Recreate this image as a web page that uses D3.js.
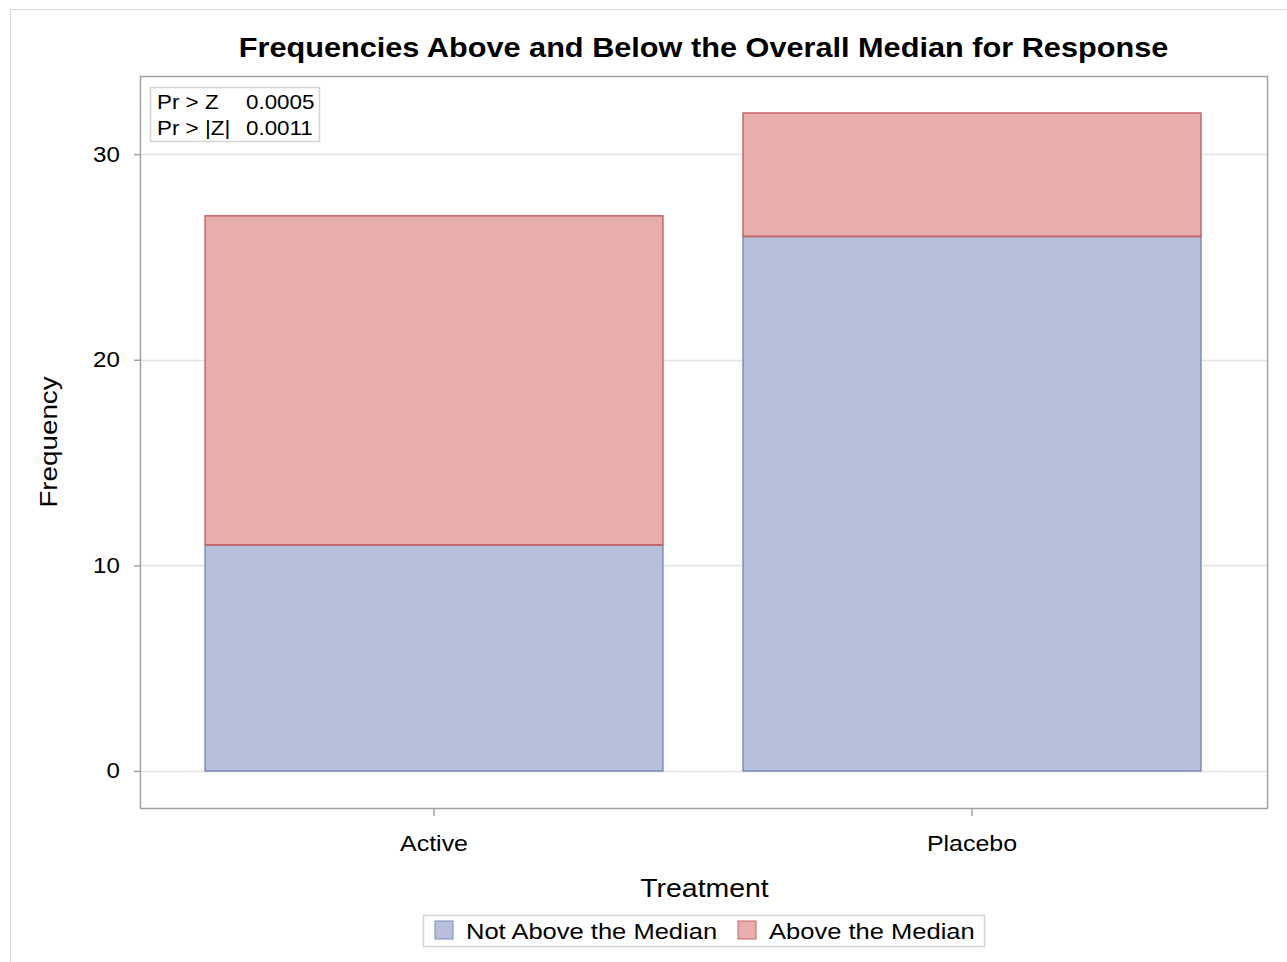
<!DOCTYPE html>
<html><head><meta charset="utf-8">
<script src="https://cdn.jsdelivr.net/npm/d3@7"></script>
<style>body{margin:0;background:#fff}svg{display:block}text{font-family:"Liberation Sans",Arial,sans-serif}</style>
</head><body><script>
const categories = ["Active","Placebo"];
const seriesNames = ["Not Above the Median","Above the Median"];
const notAbove = [11, 26];
const above = [16, 6];
const yTicks = [0,10,20,30];
const pLabels = ["Pr > Z","Pr > |Z|"];
const pValues = ["0.0005","0.0011"];
const colors = {fill:["#b7bfda","#e8aeae"], stroke:["#7d8cbd","#c76565"]};

const W=1287,H=962, SX=1.12;
const svg=d3.select("body").append("svg").attr("width",W).attr("height",H);
svg.append("rect").attr("x",10.5).attr("y",9.5).attr("width",W).attr("height",H).attr("fill","none").attr("stroke","#d9d9d9");

function txt(g,x,y,s,size,opts={}){
  const t=g.append("text").attr("transform",`translate(${x},${y}) ${opts.rot?"rotate(-90) ":""}scale(${SX},1)`)
    .attr("font-size",size).attr("fill","#000").text(s);
  if(opts.anchor) t.attr("text-anchor",opts.anchor);
  if(opts.bold) t.attr("font-weight","bold");
  return t;
}

const fx0=140, fx1=1267, fy0=76, fy1=808;
const x=d3.scaleBand().domain(categories).range([165,1241]).paddingInner(0.149).paddingOuter(0.0745);
const y=d3.scaleLinear().domain([-1.8,33.8]).range([fy1,fy0]);

// gridlines
svg.append("g").selectAll("line").data(yTicks).join("line")
  .attr("x1",fx0).attr("x2",fx1).attr("y1",d=>Math.round(y(d))+0.5).attr("y2",d=>Math.round(y(d))+0.5)
  .attr("stroke","#e4e4e4").attr("stroke-width",1.5);

// bars
const stacked = categories.map((c,i)=>[{c,s:0,y0:0,y1:notAbove[i]},{c,s:1,y0:notAbove[i],y1:notAbove[i]+above[i]}]).flat();
svg.append("g").selectAll("rect").data(stacked).join("rect")
  .attr("x",d=>x(d.c)).attr("width",x.bandwidth())
  .attr("y",d=>y(d.y1)).attr("height",d=>y(d.y0)-y(d.y1))
  .attr("fill",d=>colors.fill[d.s]).attr("stroke",d=>colors.stroke[d.s]).attr("stroke-width",1.5);
svg.append("g").selectAll("line").data(categories).join("line")
  .attr("x1",d=>x(d)).attr("x2",d=>x(d)+x.bandwidth())
  .attr("y1",(d,i)=>y(notAbove[i])).attr("y2",(d,i)=>y(notAbove[i]))
  .attr("stroke",colors.stroke[1]).attr("stroke-width",1.5);

// frame
svg.append("rect").attr("x",fx0+0.5).attr("y",fy0+0.5).attr("width",fx1-fx0).attr("height",fy1-fy0)
  .attr("fill","none").attr("stroke","#a0a4a8").attr("stroke-width",1.5);

// y axis
const yAxis=d3.axisLeft(y).tickValues(yTicks).tickSize(6).tickPadding(12);
const gy=svg.append("g").attr("transform",`translate(${fx0},0)`).call(yAxis);
gy.select(".domain").remove();
gy.selectAll(".tick line").attr("stroke","#a0a4a8").attr("stroke-width",1.5);
gy.selectAll(".tick text").attr("font-size",21.5).attr("fill","#000").attr("font-family","Liberation Sans, Arial, sans-serif")
  .attr("transform",`scale(${SX},1)`);

// x axis
const xAxis=d3.axisBottom(x).tickSize(8).tickPadding(19);
const gx=svg.append("g").attr("transform",`translate(0,${fy1})`).call(xAxis);
gx.select(".domain").remove();
gx.selectAll(".tick line").attr("stroke","#a0a4a8").attr("stroke-width",1.5);
gx.selectAll(".tick text").attr("font-size",22.3).attr("fill","#000").attr("font-family","Liberation Sans, Arial, sans-serif")
  .attr("transform",`scale(${SX},1)`);

// title
txt(svg,(fx0+fx1)/2,57,"Frequencies Above and Below the Overall Median for Response",27.4,{anchor:"middle",bold:true});
// axis labels
txt(svg,(fx0+fx1)/2+1,897,"Treatment",25.4,{anchor:"middle"});
txt(svg,57,442,"Frequency",24.8,{anchor:"middle",rot:true});

// inset
const ins=svg.append("g");
ins.append("rect").attr("x",150.5).attr("y",87.5).attr("width",169).attr("height",54).attr("fill","#fff").attr("stroke","#d4d4d4").attr("stroke-width",1.5);
pLabels.forEach((t,i)=>{
  txt(ins,157,109+i*26,t,20);
  txt(ins,246,109+i*26,pValues[i],20);
});

// legend
const lg=svg.append("g");
lg.append("rect").attr("x",423.5).attr("y",915.5).attr("width",561).attr("height",31).attr("fill","#fff").attr("stroke","#d4d4d4").attr("stroke-width",1.5);
const lx=[435,738];
seriesNames.forEach((s,i)=>{
  lg.append("rect").attr("x",lx[i]).attr("y",921).attr("width",18).attr("height",18)
    .attr("fill",colors.fill[i]).attr("stroke",colors.stroke[i]).attr("stroke-width",1);
  txt(lg,lx[i]+31,939,s,22.8);
});
</script></body></html>
